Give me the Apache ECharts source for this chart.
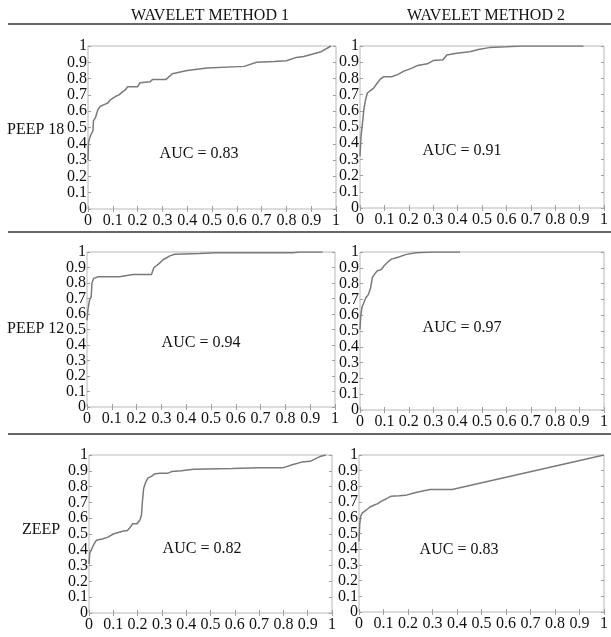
<!DOCTYPE html>
<html>
<head>
<meta charset="utf-8">
<script src="https://cdn.jsdelivr.net/npm/echarts@6/dist/echarts.min.js"></script>
<style>
html,body{margin:0;padding:0;background:#fff;}
#chart{width:611px;height:637px;}
</style>
</head>
<body>
<div id="chart"></div>
<script>
// ---- Data ----
const colTitles = ['WAVELET METHOD 1', 'WAVELET METHOD 2'];
const rowLabels = ['PEEP 18', 'PEEP 12', 'ZEEP'];
const aucLabels = ['AUC = 0.83', 'AUC = 0.91', 'AUC = 0.94', 'AUC = 0.97', 'AUC = 0.82', 'AUC = 0.83'];
const tickLabels = ['0', '0.1', '0.2', '0.3', '0.4', '0.5', '0.6', '0.7', '0.8', '0.9', '1'];
const evenTicks = [0, 0.2, 0.4, 0.6, 0.8, 1];
const oddTicks = [0.1, 0.3, 0.5, 0.7, 0.9];

const peep18w1X = [0, 0.002, 0.01, 0.02, 0.022, 0.03, 0.04, 0.05, 0.065, 0.08, 0.09, 0.11, 0.125, 0.14, 0.15, 0.16, 0.2, 0.21, 0.25, 0.26, 0.315, 0.34, 0.40, 0.48, 0.63, 0.68, 0.75, 0.80, 0.84, 0.87, 0.94, 0.98];
const peep18w1Y = [0.30, 0.41, 0.45, 0.48, 0.54, 0.56, 0.61, 0.63, 0.64, 0.65, 0.67, 0.69, 0.70, 0.72, 0.73, 0.75, 0.75, 0.775, 0.78, 0.795, 0.795, 0.83, 0.85, 0.865, 0.875, 0.90, 0.905, 0.91, 0.93, 0.935, 0.965, 1.0];

const peep18w2X = [0, 0.004, 0.01, 0.016, 0.023, 0.03, 0.043, 0.056, 0.07, 0.083, 0.096, 0.13, 0.156, 0.18, 0.216, 0.236, 0.276, 0.30, 0.34, 0.356, 0.396, 0.45, 0.49, 0.53, 0.60, 0.66, 0.916];
const peep18w2Y = [0.32, 0.44, 0.52, 0.61, 0.67, 0.71, 0.725, 0.74, 0.77, 0.795, 0.81, 0.81, 0.825, 0.845, 0.865, 0.88, 0.89, 0.91, 0.915, 0.945, 0.955, 0.965, 0.98, 0.99, 0.995, 1.0, 1.0];

const peep12w1X = [0, 0.004, 0.01, 0.017, 0.02, 0.027, 0.045, 0.13, 0.186, 0.26, 0.266, 0.27, 0.287, 0.307, 0.334, 0.354, 0.455, 0.52, 0.83, 0.86, 0.95];
const peep12w1Y = [0.56, 0.63, 0.69, 0.71, 0.80, 0.83, 0.84, 0.84, 0.855, 0.855, 0.865, 0.90, 0.92, 0.95, 0.975, 0.985, 0.99, 0.995, 0.995, 1.0, 1.0];

const peep12w2X = [0, 0.003, 0.008, 0.016, 0.024, 0.034, 0.043, 0.051, 0.06, 0.07, 0.088, 0.097, 0.11, 0.128, 0.142, 0.162, 0.19, 0.23, 0.30, 0.41];
const peep12w2Y = [0.51, 0.595, 0.65, 0.68, 0.71, 0.73, 0.77, 0.84, 0.86, 0.88, 0.89, 0.91, 0.93, 0.955, 0.96, 0.97, 0.985, 0.995, 1.0, 1.0];

const zeepW1X = [0, 0.003, 0.01, 0.02, 0.03, 0.058, 0.078, 0.1, 0.12, 0.147, 0.157, 0.168, 0.18, 0.198, 0.21, 0.216, 0.22, 0.225, 0.234, 0.243, 0.257, 0.27, 0.29, 0.325, 0.34, 0.38, 0.43, 0.59, 0.70, 0.80, 0.84, 0.875, 0.91, 0.95, 0.975];
const zeepW1Y = [0.31, 0.38, 0.40, 0.435, 0.46, 0.47, 0.48, 0.50, 0.51, 0.52, 0.52, 0.54, 0.565, 0.565, 0.59, 0.62, 0.71, 0.79, 0.83, 0.855, 0.865, 0.88, 0.885, 0.885, 0.895, 0.90, 0.91, 0.915, 0.92, 0.92, 0.94, 0.955, 0.96, 0.99, 1.0];

const zeepW2X = [0, 0.003, 0.007, 0.013, 0.03, 0.043, 0.06, 0.077, 0.09, 0.11, 0.13, 0.164, 0.19, 0.224, 0.25, 0.29, 0.38, 1.0];
const zeepW2Y = [0.45, 0.56, 0.61, 0.63, 0.65, 0.667, 0.68, 0.69, 0.705, 0.72, 0.737, 0.74, 0.743, 0.758, 0.768, 0.78, 0.78, 1.0];

const panelsX = [peep18w1X, peep18w2X, peep12w1X, peep12w2X, zeepW1X, zeepW2X];
const panelsY = [peep18w1Y, peep18w2Y, peep12w1Y, peep12w2Y, zeepW1Y, zeepW2Y];

// ---- Layout ----
const grids = [
  {left: 88, top: 46, width: 248, height: 163},
  {left: 360, top: 46, width: 250, height: 162},
  {left: 87, top: 252, width: 248, height: 155},
  {left: 360, top: 252, width: 248, height: 158},
  {left: 89, top: 455, width: 243, height: 158},
  {left: 359, top: 455, width: 248, height: 157}
];
const aucPos = [[199, 154], [462, 151], [201, 343], [462, 328], [202, 549], [459, 550]];
const rowLabelPos = [[7, 130], [7, 329], [22, 530]];
const titlePos = [[210, 16], [486, 16]];
const sepY = [24, 232, 434];

const FONT = '"Liberation Serif", "Times New Roman", serif';
const boxColor = '#b8b8b8';
const tickColor = '#a0a0a0';
const lineColor = '#7a7a7a';
const fmt = v => tickLabels[Math.round(v * 10)];

const xAxes = [], yAxes = [], series = [], graphic = [];
grids.forEach((g, i) => {
  const base = {gridIndex: i, type: 'value', min: 0, max: 1, interval: 0.1, splitLine: {show: false},
    axisLine: {show: false},
    axisTick: {show: true, inside: true, length: 3, lineStyle: {color: tickColor}}};
  const lab = {formatter: fmt, color: '#111', fontFamily: FONT, fontSize: 16,
    showMinLabel: true, showMaxLabel: true, hideOverlap: false};
  // x axes: bottom (labels), top (ticks only)
  xAxes.push(Object.assign({}, base, {position: 'bottom', axisLabel: Object.assign({}, lab, {margin: 4})}));
  xAxes.push(Object.assign({}, base, {position: 'top', axisLabel: {show: false}}));
  // y axes: left even labels + ticks, left odd labels, right ticks only
  yAxes.push(Object.assign({}, base, {position: 'left', offset: 0,
    axisLabel: Object.assign({}, lab, {margin: 1, customValues: evenTicks})}));
  yAxes.push(Object.assign({}, base, {position: 'left', offset: 0, axisTick: {show: false},
    axisLabel: Object.assign({}, lab, {margin: 1, customValues: oddTicks})}));
  yAxes.push(Object.assign({}, base, {position: 'right', axisLabel: {show: false}}));
  series.push({
    type: 'line', xAxisIndex: 2 * i, yAxisIndex: 3 * i, showSymbol: false, silent: true,
    lineStyle: {color: lineColor, width: 1.5},
    data: panelsX[i].map((x, k) => [x, panelsY[i][k]])
  });
  graphic.push({type: 'text', x: aucPos[i][0], y: aucPos[i][1],
    style: {text: aucLabels[i], fill: '#111', font: '16px ' + FONT, textAlign: 'center', textVerticalAlign: 'middle'}});
});
colTitles.forEach((t, i) => graphic.push({type: 'text', x: titlePos[i][0], y: titlePos[i][1],
  style: {text: t, fill: '#111', font: '16px ' + FONT, textAlign: 'center', textVerticalAlign: 'middle'}}));
rowLabels.forEach((t, i) => graphic.push({type: 'text', x: rowLabelPos[i][0], y: rowLabelPos[i][1],
  style: {text: t, fill: '#111', font: '16px ' + FONT, textAlign: 'left', textVerticalAlign: 'middle'}}));
sepY.forEach(y => graphic.push({type: 'line', shape: {x1: 8, y1: y, x2: 611, y2: y},
  style: {stroke: '#333', lineWidth: 1.5}}));

const chart = echarts.init(document.getElementById('chart'), null, {renderer: 'canvas'});
chart.setOption({
  animation: false,
  backgroundColor: '#fff',
  grid: grids.map(g => Object.assign({show: true, borderColor: boxColor, borderWidth: 1, backgroundColor: 'transparent'}, g)),
  xAxis: xAxes,
  yAxis: yAxes,
  series: series,
  graphic: graphic
});
</script>
</body>
</html>
